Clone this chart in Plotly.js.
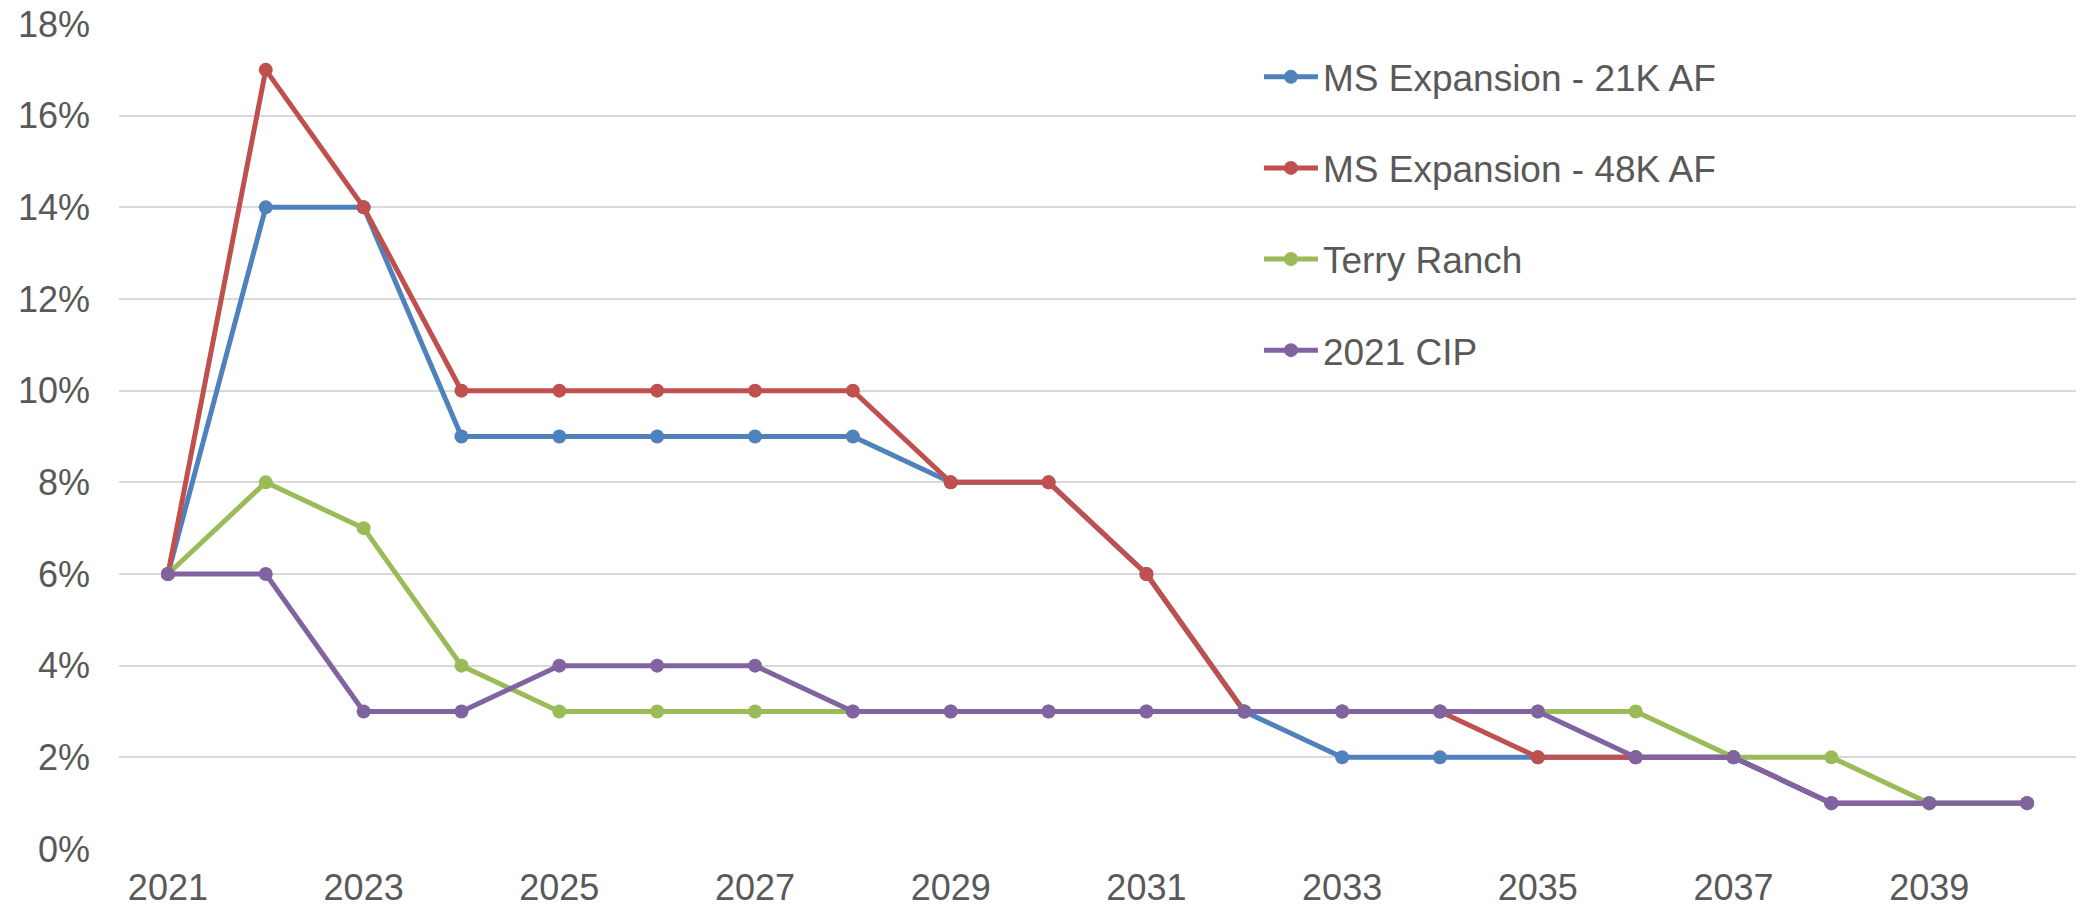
<!DOCTYPE html>
<html>
<head>
<meta charset="utf-8">
<script src="https://cdn.plot.ly/plotly-3.0.1.min.js"></script>
<style>html,body{margin:0;padding:0;background:#fff;}#chart{width:2080px;height:913px;}</style>
</head>
<body>
<div id="chart"></div>
<script>
const years = [2021,2022,2023,2024,2025,2026,2027,2028,2029,2030,2031,2032,2033,2034,2035,2036,2037,2038,2039,2040];
const ms21k = [6,14,14,9,9,9,9,9,8,8,6,3,2,2,2,2,2,1,1,1];
const ms48k = [6,17,14,10,10,10,10,10,8,8,6,3,3,3,2,2,2,1,1,1];
const terryRanch = [6,8,7,4,3,3,3,3,3,3,3,3,3,3,3,3,2,2,1,1];
const cip2021 = [6,6,3,3,4,4,4,3,3,3,3,3,3,3,3,2,2,1,1,1];
const seriesNames = ['MS Expansion - 21K AF','MS Expansion - 48K AF','Terry Ranch','2021 CIP'];
const seriesColors = ['#4F81BD','#C0504D','#9BBB59','#8064A2'];
const seriesValues = [ms21k, ms48k, terryRanch, cip2021];

const traces = seriesValues.map((vals, i) => ({
  x: years, y: vals, type: 'scatter', mode: 'lines+markers',
  name: seriesNames[i], legendgroup: 'g' + i,
  line: {color: seriesColors[i], width: 5},
  marker: {color: seriesColors[i], size: 14},
  hoverinfo: 'x+y+name'
}));

const fontFamily = 'Liberation Sans, Arial, sans-serif';
const layout = {
  width: 2080, height: 913,
  margin: {l: 119, r: 4, t: 24, b: 64},
  paper_bgcolor: '#ffffff', plot_bgcolor: '#ffffff',
  font: {family: fontFamily, size: 36, color: '#595959'},
  showlegend: true,
  legend: {
    x: 0.5825, y: 0.973, xanchor: 'left', yanchor: 'top',
    bgcolor: 'rgba(0,0,0,0)',
    font: {family: fontFamily, size: 37, color: '#595959'},
    tracegroupgap: 40, itemwidth: 54
  },
  xaxis: {
    type: 'linear', range: [2020.5, 2040.5],
    tick0: 2021, dtick: 2, showgrid: false, zeroline: false,
    showline: false, ticks: '', ticklabelstandoff: 14,
    tickfont: {family: fontFamily, size: 36, color: '#595959'}
  },
  yaxis: {
    range: [0, 18], dtick: 2, tick0: 0, ticksuffix: '%',
    showgrid: true, gridcolor: '#d9d9d9', gridwidth: 2,
    zeroline: false, showline: false, ticks: '', ticklabelstandoff: 28,
    tickfont: {family: fontFamily, size: 36, color: '#595959'}
  }
};
Plotly.newPlot('chart', traces, layout, {displayModeBar: false, staticPlot: true});
</script>
</body>
</html>
